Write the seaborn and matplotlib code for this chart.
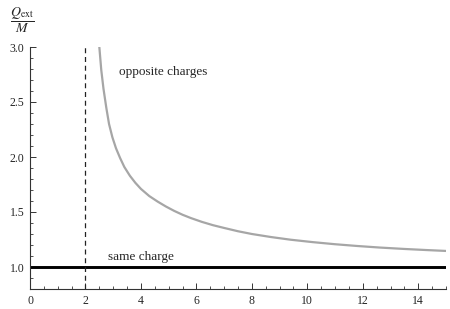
import numpy as np
import pandas as pd
import matplotlib
matplotlib.use("Agg")
import matplotlib.pyplot as plt
import seaborn as sns
from matplotlib.ticker import MultipleLocator

# values
opp_x = [2.5, 2.57, 2.65, 2.75, 2.85, 2.97, 3.1, 3.25, 3.4, 3.6, 3.8, 4.0, 4.3,
         4.6, 4.9, 5.2, 5.5, 5.8, 6.2, 6.6, 7.0, 7.5, 8.0, 8.7, 9.4, 10.2,
         11.0, 11.8, 12.6, 13.5, 14.3, 15.0]
opp_y = [3.0, 2.79, 2.62, 2.45, 2.30, 2.18, 2.08, 1.99, 1.91, 1.83, 1.765, 1.71, 1.645,
         1.595, 1.55, 1.51, 1.475, 1.445, 1.41, 1.38, 1.355, 1.325, 1.30, 1.272, 1.248, 1.226,
         1.207, 1.191, 1.177, 1.164, 1.154, 1.146]
same_x = [0.0, 15.0]
same_y = [1.0, 1.0]
pole_x = 2.0

x_ticks = [0, 2, 4, 6, 8, 10, 12, 14]
y_ticks = [1.0, 1.5, 2.0, 2.5, 3.0]

sns.set_style("white")
plt.rcParams['font.family'] = ['Liberation Serif', 'DejaVu Serif']
plt.rcParams['mathtext.fontset'] = 'stix'

fig = plt.figure(figsize=(4.5, 3.09), dpi=100)
ax = fig.add_axes([30 / 450, 1 - 289 / 309, 416 / 450, 242 / 309])

opp = pd.DataFrame({'x': opp_x, 'y': opp_y})
same = pd.DataFrame({'x': same_x, 'y': same_y})

sns.lineplot(data=opp, x='x', y='y', ax=ax, color='#a6a6a6', linewidth=1.6,
             sort=False, estimator=None)
sns.lineplot(data=same, x='x', y='y', ax=ax, color='black', linewidth=2.1,
             estimator=None)
ax.axvline(pole_x, color='#222222', linewidth=0.9, linestyle=(0, (4, 3)))

ax.set_xlim(0, 15)
ax.set_ylim(0.8, 3.0)
ax.set_xlabel('')
ax.set_ylabel('')

ax.set_xticks(x_ticks)
ax.set_yticks(y_ticks)
ax.set_yticklabels([f"{v:.1f}" for v in y_ticks])
ax.xaxis.set_minor_locator(MultipleLocator(0.5))
ax.yaxis.set_minor_locator(MultipleLocator(0.1))
ax.tick_params(which='major', direction='in', length=4, width=0.7,
               labelsize=8.5, color='#333333', pad=4)
ax.tick_params(which='minor', direction='in', length=2.3, width=0.6,
               color='#333333')
ax.tick_params(axis='y', which='both', left=True)
ax.tick_params(axis='x', which='both', bottom=True)

for s in ['top', 'right']:
    ax.spines[s].set_visible(False)
for s in ['left', 'bottom']:
    ax.spines[s].set_color('#333333')
    ax.spines[s].set_linewidth(0.8)

ax.text(3.2, 2.77, 'opposite charges', fontsize=9.5, va='center', ha='left')
ax.text(2.83, 1.09, 'same charge', fontsize=9.5, va='center', ha='left')

fig.text(22 / 450, 1 - 20 / 309, r'$\dfrac{Q_{\rm ext}}{M}$', fontsize=10,
         ha='center', va='center')

fig.savefig("out.png", dpi=100)
